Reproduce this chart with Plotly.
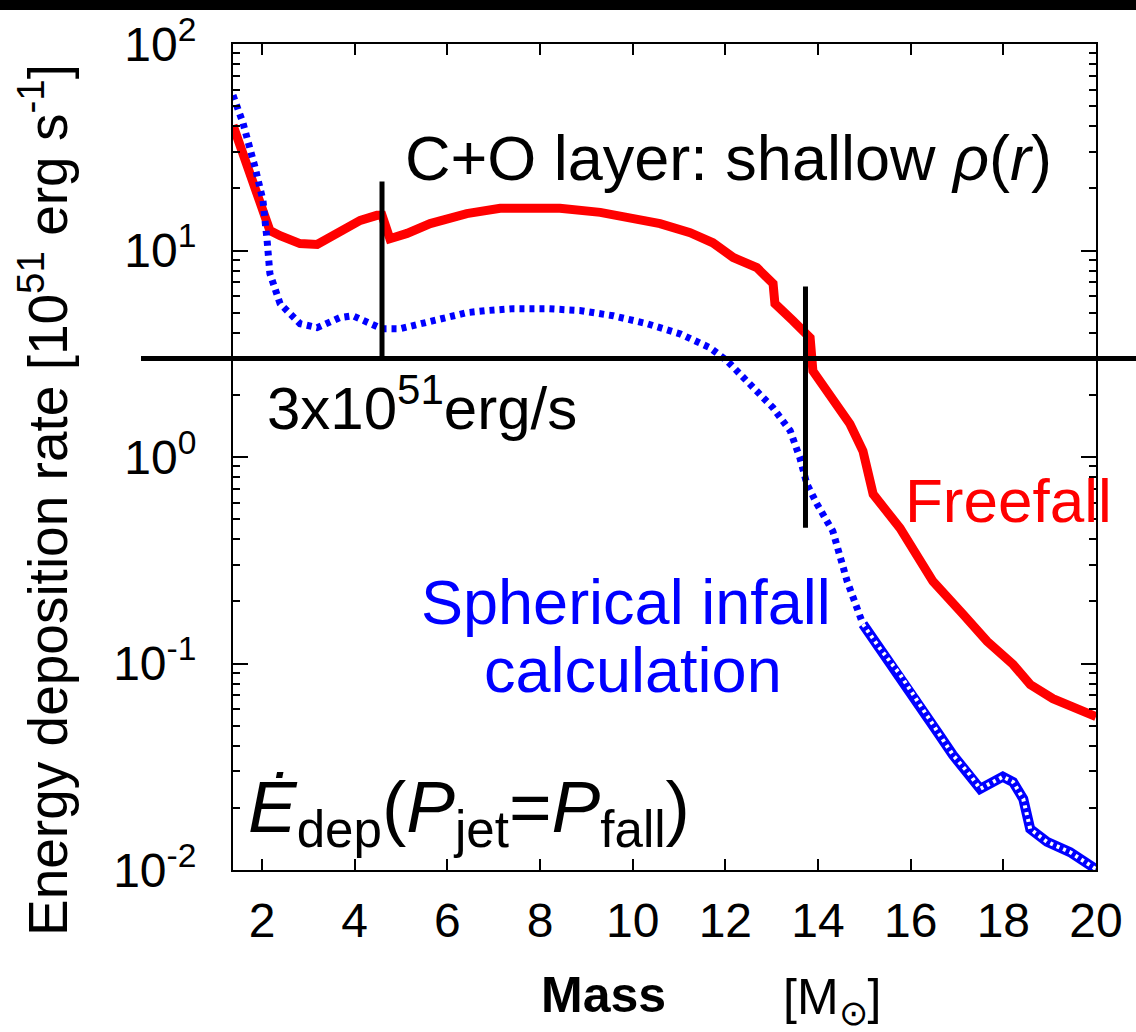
import plotly.graph_objects as go

# ---------------- data ----------------
freefall_mass = [1.374, 1.78, 2.17, 2.39, 2.82, 3.19, 3.68, 4.12, 4.48, 4.59, 4.76, 5.13, 5.63,
                 6.42, 7.14, 7.78, 8.43, 9.30, 9.94, 10.59, 11.24, 11.73, 12.17, 12.68, 13.03,
                 13.07, 13.46, 13.83, 13.89, 14.26, 14.69, 14.97, 15.19, 15.77, 16.48, 17.13,
                 17.65, 18.21, 18.58, 19.07, 20.0]
freefall_rate = [40.4, 21.9, 12.5, 11.8, 10.8, 10.7, 12.5, 14.0, 14.8, 14.8, 11.4, 12.1, 13.5,
                 15.1, 16.0, 16.0, 16.0, 15.3, 14.5, 13.5, 12.2, 10.9, 9.25, 8.26, 6.92,
                 5.53, 4.57, 3.78, 2.61, 2.02, 1.445, 1.07, 0.661, 0.452, 0.250, 0.173,
                 0.128, 0.0989, 0.0791, 0.0676, 0.0553]

spherical_mass = [1.374, 1.59, 1.85, 2.02, 2.11, 2.17, 2.39, 2.82, 3.19, 3.68, 3.96, 4.27, 4.59,
                  4.98, 5.69, 6.42, 6.86, 7.42, 8.15, 8.86, 9.58, 10.31, 11.02, 11.67, 12.04,
                  12.53, 13.03, 13.40, 13.61, 13.76, 13.98, 14.32, 14.63, 14.97, 15.34, 15.77,
                  16.20, 16.57, 16.91, 17.28, 17.50, 17.78, 17.99, 18.21, 18.43, 18.58, 18.94,
                  19.44, 20.0]
spherical_rate = [56.5, 41.4, 25.3, 17.5, 11.2, 7.73, 5.53, 4.42, 4.23, 4.73, 4.83, 4.47, 4.18,
                  4.18, 4.57, 5.0, 5.12, 5.23, 5.23, 5.12, 4.83, 4.42, 3.95, 3.38, 2.92,
                  2.26, 1.73, 1.34, 0.989, 0.740, 0.591, 0.437, 0.250, 0.155, 0.118, 0.0885,
                  0.0633, 0.0468, 0.0361, 0.0289, 0.0247, 0.0267, 0.0283, 0.0267, 0.0221, 0.0158, 0.0137,
                  0.0122, 0.0101]

threshold_rate = 3.0
boundary_mass = [4.59, 13.73]
boundary_top = [21.6, 6.7]
boundary_bottom = [3.0, 0.454]

x_ticks = [2, 4, 6, 8, 10, 12, 14, 16, 18, 20]
y_ticks = [0.01, 0.1, 1, 10, 100]
y_tick_text = ["10<sup>-2</sup>", "10<sup>-1</sup>", "10<sup>0</sup>", "10<sup>1</sup>", "10<sup>2</sup>"]
y_minor = [m * d for d in [0.01, 0.1, 1, 10] for m in range(2, 10)]

FONT = "Liberation Sans"

# plot box in pixels
L, R, T, B = 233, 1096, 44, 870
W, H = R - L, B - T


def px(x):
    return (x - L) / W


def py(y):
    return (B - y) / H


fig = go.Figure()

fig.add_trace(go.Scatter(x=freefall_mass, y=freefall_rate, mode="lines",
                         line=dict(color="#ff0000", width=9), showlegend=False))

fig.add_trace(go.Scatter(x=spherical_mass, y=spherical_rate, mode="lines",
                         line=dict(color="#0000ff", width=7, dash="5px,5px"), showlegend=False))

# dense (outlined) part of the spherical infall curve
idx = [i for i, m in enumerate(spherical_mass) if m >= 14.9]
tail_x = [spherical_mass[i] for i in idx]
tail_y = [spherical_rate[i] for i in idx]
fig.add_trace(go.Scatter(x=tail_x, y=tail_y, mode="lines",
                         line=dict(color="#0000ff", width=10), showlegend=False))
fig.add_trace(go.Scatter(x=tail_x, y=tail_y, mode="lines",
                         line=dict(color="white", width=4, dash="3px,4px"), showlegend=False))

# vertical boundary lines
for bm, bt, bb in zip(boundary_mass, boundary_top, boundary_bottom):
    fig.add_trace(go.Scatter(x=[bm, bm], y=[bb, bt], mode="lines",
                             line=dict(color="black", width=5), showlegend=False))

shapes = [
    dict(type="line", xref="paper", yref="y", x0=px(141), x1=px(1136),
         y0=threshold_rate, y1=threshold_rate, line=dict(color="black", width=5)),
    dict(type="rect", xref="paper", yref="paper", x0=px(0), x1=px(1136),
         y0=py(10), y1=py(0), line=dict(width=0), fillcolor="black"),
]

annotations = [
    dict(text="Energy deposition rate [10<sup>51</sup> erg s<sup>-1</sup>]", textangle=-90,
         x=px(44), y=py(500), xanchor="center", yanchor="middle", font=dict(size=55)),
    dict(text="C+O layer: shallow <i>ρ</i>(<i>r</i>)", x=px(403), y=py(158),
         xanchor="left", yanchor="middle", font=dict(size=63)),
    dict(text="3x10<sup>51</sup>erg/s", x=px(265), y=py(404),
         xanchor="left", yanchor="middle", font=dict(size=60)),
    dict(text="Freefall", x=px(903), y=py(500), xanchor="left", yanchor="middle",
         font=dict(size=62, color="#ff0000")),
    dict(text="Spherical infall", x=px(626), y=py(602), xanchor="center", yanchor="middle",
         font=dict(size=63, color="#0000ff")),
    dict(text="calculation", x=px(633), y=py(670), xanchor="center", yanchor="middle",
         font=dict(size=63, color="#0000ff")),
    dict(text="<i>Ė</i><sub>dep</sub>(<i>P</i><sub>jet</sub>=<i>P</i><sub>fall</sub>)",
         x=px(246), y=py(812), xanchor="left", yanchor="middle", font=dict(size=73)),
    dict(text="<b>Mass</b>", x=px(603), y=py(995), xanchor="center", yanchor="middle",
         font=dict(size=50)),
    dict(text="[M<sub>⊙</sub>]", x=px(832), y=py(1000), xanchor="center", yanchor="middle",
         font=dict(size=50)),
]
for a in annotations:
    a.update(xref="paper", yref="paper", showarrow=False)
    a["font"].setdefault("color", "black")
    a["font"]["family"] = FONT

fig.update_layout(
    width=1136, height=1032, autosize=False,
    margin=dict(l=L, r=1136 - R, t=T, b=1032 - B),
    paper_bgcolor="white", plot_bgcolor="white",
    font=dict(family=FONT, color="black"),
    shapes=shapes, annotations=annotations,
    xaxis=dict(range=[1.374, 20], tickmode="array", tickvals=x_ticks,
               ticks="inside", ticklen=11, tickwidth=2, tickcolor="black",
               showline=True, linecolor="black", linewidth=2, mirror="ticks",
               showgrid=False, zeroline=False,
               tickfont=dict(size=48, family=FONT), ticklabelstandoff=7),
    yaxis=dict(type="log", range=[-2, 2], tickmode="array", tickvals=y_ticks,
               ticktext=y_tick_text,
               ticks="inside", ticklen=15, tickwidth=2, tickcolor="black",
               minor=dict(tickmode="array", tickvals=y_minor, ticks="inside",
                          ticklen=7, tickwidth=2, tickcolor="black", showgrid=False),
               showline=True, linecolor="black", linewidth=2, mirror="ticks",
               showgrid=False, zeroline=False,
               tickfont=dict(size=48, family=FONT), ticklabelstandoff=25),
)

fig.write_html("out.html")
